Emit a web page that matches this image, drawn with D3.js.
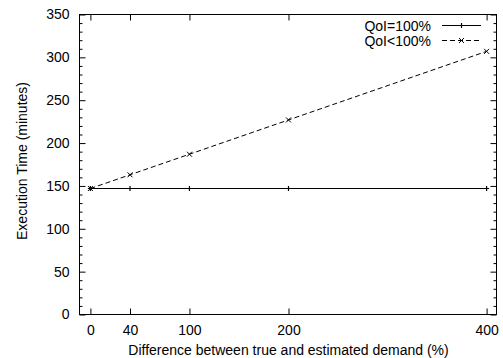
<!DOCTYPE html>
<html>
<head>
<meta charset="utf-8">
<script src="https://cdn.jsdelivr.net/npm/d3@7"></script>
<style>
  body { margin: 0; background: #fff; }
  text { font-family: "Liberation Sans", Arial, sans-serif; font-size: 14px; fill: #000; }
</style>
</head>
<body>
<div id="chart"></div>
<script>
// data
var demandDiff = [0, 40, 100, 200, 400];
var qoiFull = [147, 147, 147, 147, 147];
var qoiPartial = [147, 163, 187, 227, 307];
var seriesNames = ['QoI=100%', 'QoI<100%'];
var yTicks = [0, 50, 100, 150, 200, 250, 300, 350];

var width = 503, height = 358;
var margins = { top: 14.5, right: 6.5, bottom: 43.5, left: 79.5 };

var svg = d3.select('#chart').append('svg')
    .attr('width', width)
    .attr('height', height);

var x = d3.scaleLinear().domain([-11, 410]).range([margins.left, width - margins.right]);
var y = d3.scaleLinear().domain([0, 350]).range([height - margins.bottom, margins.top]);

var plotW = width - margins.left - margins.right;
var plotH = height - margins.top - margins.bottom;

// axes (gnuplot style: ticks pointing inward, mirrored)
var g = svg.append('g');

var yMinor = d3.range(0, 351, 10).filter(function(v) { return v % 50 != 0; });

var noDomain = function(a) { a.select('.domain').remove(); };

g.append('g')
    .attr('transform', 'translate(' + margins.left + ',0)')
    .call(d3.axisLeft(y).tickValues(yTicks).tickSize(-6).tickPadding(10))
    .call(noDomain);
g.append('g')
    .attr('transform', 'translate(' + margins.left + ',0)')
    .call(d3.axisLeft(y).tickValues(yMinor).tickSize(-3).tickFormat(''))
    .call(noDomain);
g.append('g')
    .attr('transform', 'translate(' + (width - margins.right) + ',0)')
    .call(d3.axisRight(y).tickValues(yTicks).tickSize(-6).tickFormat(''))
    .call(noDomain);
g.append('g')
    .attr('transform', 'translate(' + (width - margins.right) + ',0)')
    .call(d3.axisRight(y).tickValues(yMinor).tickSize(-3).tickFormat(''))
    .call(noDomain);

g.append('g')
    .attr('transform', 'translate(0,' + (height - margins.bottom) + ')')
    .call(d3.axisBottom(x).tickValues(demandDiff).tickSize(-6).tickPadding(11))
    .call(noDomain);
g.append('g')
    .attr('transform', 'translate(0,' + margins.top + ')')
    .call(d3.axisTop(x).tickValues(demandDiff).tickSize(-6).tickFormat(''))
    .call(noDomain);

g.selectAll('.tick text').style('font-size', '14px').style('font-family', '"Liberation Sans", Arial, sans-serif');
g.selectAll('.tick line').attr('stroke', '#000');

// border
svg.append('rect')
    .attr('x', margins.left).attr('y', margins.top)
    .attr('width', plotW).attr('height', plotH)
    .attr('fill', 'none').attr('stroke', '#000').attr('stroke-width', 1);

// axis labels
svg.append('text')
    .attr('x', 288.5)
    .attr('y', height - 3)
    .attr('text-anchor', 'middle')
    .text('Difference between true and estimated demand (%)');
svg.append('text')
    .attr('transform', 'translate(27,161) rotate(-90)')
    .attr('text-anchor', 'middle')
    .text('Execution Time (minutes)');

// lines
var line = d3.line()
    .x(function(d) { return x(d[0]); })
    .y(function(d) { return y(d[1]); });

var fullPts = demandDiff.map(function(d, i) { return [d, qoiFull[i]]; });
var partPts = demandDiff.map(function(d, i) { return [d, qoiPartial[i]]; });

svg.append('path').datum(fullPts)
    .attr('d', line).attr('fill', 'none').attr('stroke', '#000').attr('stroke-width', 1);
svg.append('path').datum(partPts)
    .attr('d', line).attr('fill', 'none').attr('stroke', '#000').attr('stroke-width', 1)
    .attr('stroke-dasharray', '5,3');

var drawPlus = function(sel, cx, cy) {
    sel.append('path')
        .attr('d', 'M' + (cx - 2.5) + ',' + cy + 'H' + (cx + 2.5) + 'M' + cx + ',' + (cy - 2.5) + 'V' + (cy + 2.5))
        .attr('stroke', '#000').attr('stroke-width', 1.2);
};
var drawCross = function(sel, cx, cy) {
    sel.append('path')
        .attr('d', 'M' + (cx - 2.5) + ',' + (cy - 2.5) + 'L' + (cx + 2.5) + ',' + (cy + 2.5) +
                   'M' + (cx - 2.5) + ',' + (cy + 2.5) + 'L' + (cx + 2.5) + ',' + (cy - 2.5))
        .attr('stroke', '#000').attr('stroke-width', 1);
};

var marks = svg.append('g');
fullPts.forEach(function(p) { drawPlus(marks, x(p[0]), y(p[1])); });
partPts.forEach(function(p) { drawCross(marks, x(p[0]), y(p[1])); });

// legend
var legend = svg.append('g');
var legY = [25.5, 40.5];
seriesNames.forEach(function(name, i) {
    legend.append('text')
        .attr('x', 431).attr('y', legY[i] + 5)
        .attr('text-anchor', 'end')
        .text(name);
    legend.append('line')
        .attr('x1', 442).attr('x2', 481)
        .attr('y1', legY[i]).attr('y2', legY[i])
        .attr('stroke', '#000').attr('stroke-width', 1)
        .attr('stroke-dasharray', i == 1 ? '5,3' : null);
    if (i == 0) drawPlus(legend, 461.5, legY[i]);
    else drawCross(legend, 461.5, legY[i]);
});
</script>
</body>
</html>
